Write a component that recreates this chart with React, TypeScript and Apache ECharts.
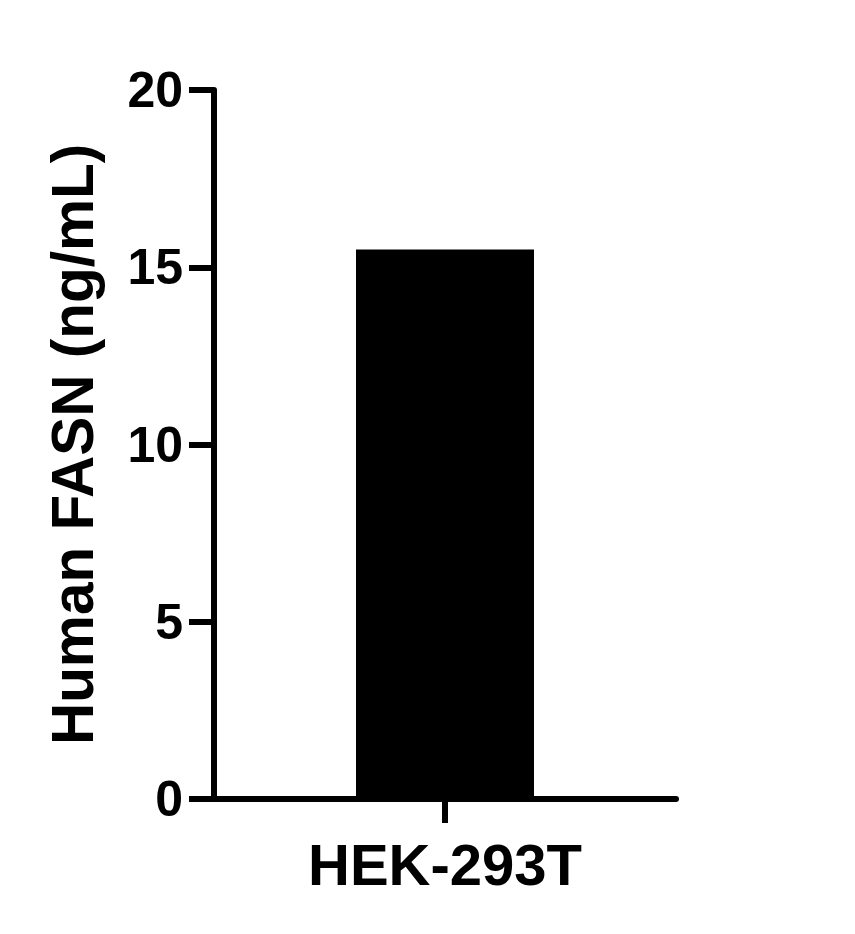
import React, { useRef, useEffect } from 'react';
import * as echarts from 'echarts';

const categories = ['HEK-293T'];
const values = [15.5];
const yTicks = [0, 5, 10, 15, 20];

const FONT = '"Liberation Sans", Arial, Helvetica, sans-serif';

export default function App() {
  const chartRef = useRef<HTMLDivElement>(null);

  useEffect(() => {
    document.body.style.margin = '0';
    if (!chartRef.current) return;
    const chart = echarts.init(chartRef.current, undefined, { renderer: 'svg' });

    chart.setOption({
      animation: false,
      backgroundColor: '#ffffff',
      grid: { left: 214, right: 179, top: 90, bottom: 135 },
      xAxis: {
        type: 'category',
        data: categories,
        axisLine: { lineStyle: { color: '#000', width: 6 } },
        axisTick: {
          show: true,
          interval: 0,
          alignWithLabel: true,
          length: 24,
          lineStyle: { color: '#000', width: 6 },
        },
        axisLabel: { color: '#000', fontFamily: FONT, fontWeight: 'bold', fontSize: 58, margin: 36 },
      },
      yAxis: {
        type: 'value',
        min: yTicks[0],
        max: yTicks[yTicks.length - 1],
        interval: 5,
        name: 'Human FASN (ng/mL)',
        nameLocation: 'middle',
        nameGap: 112,
        nameTextStyle: { color: '#000', fontFamily: FONT, fontWeight: 'bold', fontSize: 58.5 },
        axisLine: { show: true, lineStyle: { color: '#000', width: 6 } },
        axisTick: { show: true, length: 25, lineStyle: { color: '#000', width: 6 } },
        axisLabel: { color: '#000', fontFamily: FONT, fontWeight: 'bold', fontSize: 50, margin: 31 },
        splitLine: { show: false },
      },
      series: [
        {
          type: 'bar',
          data: values,
          barWidth: 178,
          itemStyle: { color: '#000' },
        },
      ],
    });

    return () => chart.dispose();
  }, []);

  return <div ref={chartRef} style={{ width: 855, height: 934 }} />;
}
